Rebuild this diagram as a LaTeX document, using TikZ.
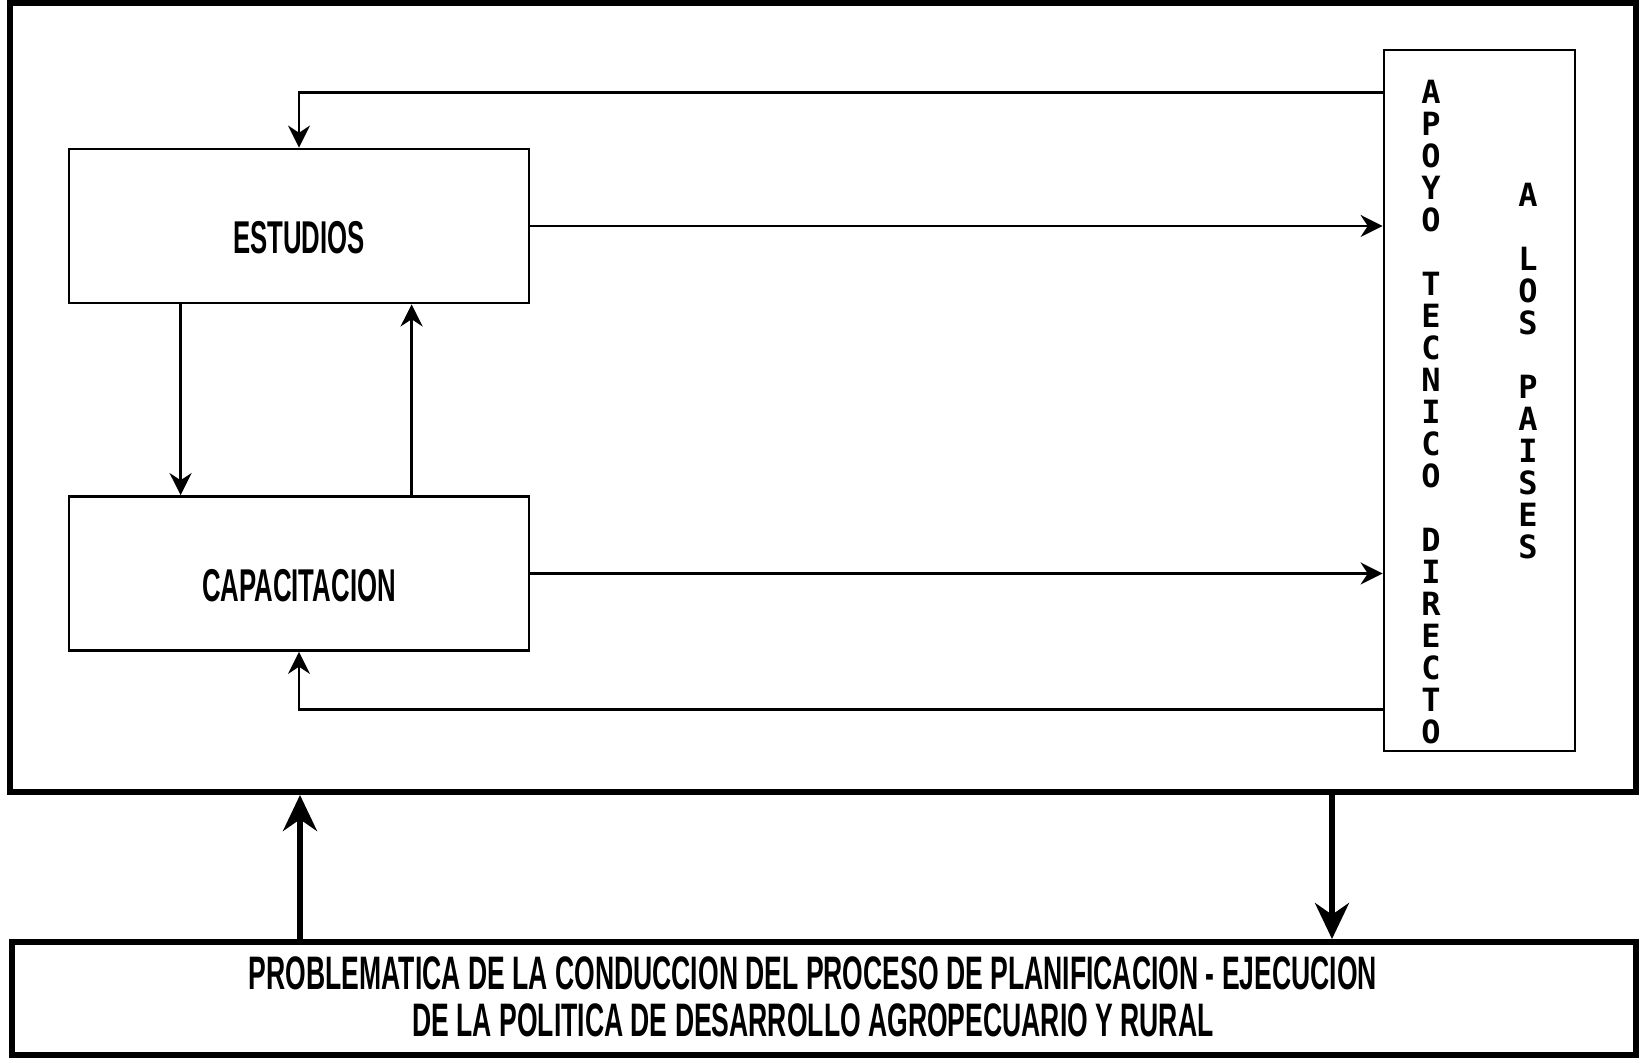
\documentclass[tikz,border=0pt]{standalone}
\usepackage{fontspec}
\usepackage{tikz}
\usetikzlibrary{arrows.meta,positioning}
\setmainfont{Liberation Sans}
\newfontfamily\letrafont[FakeStretch=0.56]{Liberation Sans}
\newfontfamily\lineafont[FakeStretch=0.565]{Liberation Sans}
\newfontfamily\mecfont{DejaVu Sans Mono}

\begin{document}
\begin{tikzpicture}[x=0.5pt,y=-0.5pt,>={Stealth[length=11pt,width=11pt]},line width=1.4pt,node distance=173.75pt]
 \tikzstyle{caja}=[draw,rectangle,minimum width=230pt,minimum height=77pt,text height=28pt,text depth=0pt,
                   font=\letrafont\bfseries\fontsize{23}{24}\selectfont]
 \tikzstyle{marco}=[draw,rectangle,line width=3pt]
 \tikzstyle{grueso}=[-{Stealth[length=18pt,width=17pt]},line width=2.6pt]
 \tikzstyle{vertical}=[align=center,font=\mecfont\bfseries\fontsize{16}{16}\selectfont]

 \useasboundingbox (0,0) rectangle (1640,1063);

   \node[marco,minimum width=813pt,minimum height=394.5pt] (marco) at (823,397.5) {};
   \node[marco,minimum width=812pt,minimum height=56.5pt] (probl) at (824,998.5) {};
   \node[align=center,font=\lineafont\bfseries\fontsize{23.5}{23.5}\selectfont] (probltxt)
     at ([xshift=-5.5pt,yshift=1pt]probl.center)
     {PROBLEMATICA DE LA CONDUCCION DEL PROCESO DE PLANIFICACION - EJECUCION\\
      DE LA POLITICA DE DESARROLLO AGROPECUARIO Y RURAL};

   \node[caja] (est) at (299,226) {ESTUDIOS};
   \node[caja] (cap) [below of = est] {CAPACITACION};
   \node[draw,rectangle,minimum width=95.5pt,minimum height=350.5pt] (apoyo) at (1479.5,400.5) {};
   \node[vertical] (apoyotxt) at (1431,412)
     {A\\P\\O\\Y\\O\\[16pt]T\\E\\C\\N\\I\\C\\O\\[16pt]D\\I\\R\\E\\C\\T\\O};
   \node[vertical] (paisestxt) at (1528,371)
     {A\\[16pt]L\\O\\S\\[16pt]P\\A\\I\\S\\E\\S};

   \draw[->] (est.east) -- (est.east -| apoyo.west);
   \draw[->] (cap.east) -- (cap.east -| apoyo.west);
   \draw[->] ([yshift=-22pt]apoyo.north west) -| (est.north);
   \draw[->] ([yshift=21.5pt]apoyo.south west) -| (cap.south);
   \draw[->] ([xshift=56.5pt]est.south west) -- ([xshift=56.5pt]cap.north west);
   \draw[->] ([xshift=172pt]cap.north west) -- ([xshift=172pt]est.south west);

   \draw[grueso] ([xshift=145.5pt]probl.north west) -- ([xshift=146.5pt]marco.south west);
   \draw[grueso] ([xshift=662.5pt]marco.south west) -- ([xshift=661.5pt]probl.north west);

\end{tikzpicture}
\end{document}
